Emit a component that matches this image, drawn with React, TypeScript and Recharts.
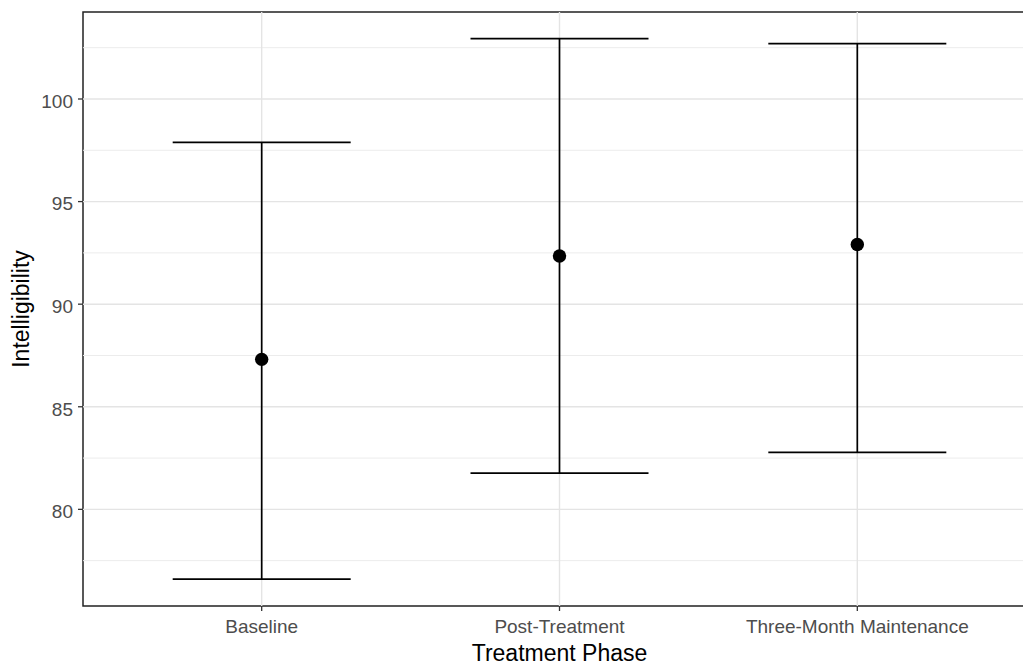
import { ComposedChart, Scatter, ErrorBar, XAxis, YAxis, ReferenceLine, ReferenceArea } from 'recharts';

const phases = ['Baseline', 'Post-Treatment', 'Three-Month Maintenance'];
const means = [87.31, 92.35, 92.91];
const lowers = [76.6, 81.77, 82.78];
const uppers = [97.89, 102.94, 102.7];

const yTicks = [80, 85, 90, 95, 100];
const yMinor = [77.5, 82.5, 87.5, 92.5, 97.5, 102.5];
const xTicks = [1, 2, 3];

const data = phases.map((name, i) => ({
    x: i + 1,
    name,
    mean: means[i],
    err: [means[i] - lowers[i], uppers[i] - means[i]],
}));

const FONT = '"Liberation Sans", Arial, sans-serif';
const Y_DOMAIN: [number, number] = [75.29, 104.24];

export default function App() {
    return (
        <div style={{ position: 'absolute', left: 0, top: 0, width: 1023, height: 666, overflow: 'hidden', background: '#fff', fontFamily: FONT }}>
            <ComposedChart width={1040} height={666} data={data} margin={{ top: 12, right: 4, left: 0, bottom: 0 }}>
                {/* panel grid */}
                {yMinor.map((v) => (
                    <ReferenceLine key={`mn-${v}`} y={v} stroke="#ececec" strokeWidth={1} />
                ))}
                {yTicks.map((v) => (
                    <ReferenceLine key={`mj-${v}`} y={v} stroke="#e4e4e4" strokeWidth={1.4} />
                ))}
                {xTicks.map((v) => (
                    <ReferenceLine key={`vx-${v}`} x={v} stroke="#e4e4e4" strokeWidth={1.4} />
                ))}
                <XAxis
                    type="number"
                    dataKey="x"
                    domain={[0.4, 3.6]}
                    ticks={xTicks}
                    allowDataOverflow
                    tickFormatter={(v: number) => phases[v - 1] ?? ''}
                    axisLine={false}
                    tickLine={{ stroke: '#333', strokeWidth: 1.3 }}
                    tickSize={5}
                    tickMargin={9}
                    height={60}
                    tick={{ fill: '#4d4d4d', fontSize: 19, fontFamily: FONT }}
                    label={{
                        content: ({ viewBox }: any) => (
                            <text
                                x={viewBox.x + viewBox.width / 2}
                                y={viewBox.y + viewBox.height - 5}
                                textAnchor="middle"
                                fill="#000"
                                fontSize={23}
                                fontFamily={FONT}
                            >
                                Treatment Phase
                            </text>
                        ),
                    }}
                />
                <YAxis
                    type="number"
                    domain={Y_DOMAIN}
                    ticks={yTicks}
                    allowDataOverflow
                    axisLine={false}
                    tickLine={{ stroke: '#333', strokeWidth: 1.3 }}
                    tickSize={5}
                    tickMargin={5}
                    width={83}
                    tick={{ fill: '#4d4d4d', fontSize: 19, fontFamily: FONT, dy: 2 }}
                    label={{
                        content: ({ viewBox }: any) => {
                            const cx = viewBox.x + 29;
                            const cy = viewBox.y + viewBox.height / 2;
                            return (
                                <text
                                    x={cx}
                                    y={cy}
                                    transform={`rotate(-90, ${cx}, ${cy})`}
                                    textAnchor="middle"
                                    fill="#000"
                                    fontSize={23}
                                    fontFamily={FONT}
                                >
                                    Intelligibility
                                </text>
                            );
                        },
                    }}
                />
                <Scatter
                    dataKey="mean"
                    isAnimationActive={false}
                    shape={(p: any) => <circle cx={p.cx} cy={p.cy} r={6.7} fill="#000" />}
                >
                    <ErrorBar dataKey="err" direction="y" width={89} stroke="#000" strokeWidth={1.7} isAnimationActive={false} />
                </Scatter>
                <ReferenceArea
                    x1={0.4}
                    x2={3.6}
                    y1={Y_DOMAIN[0]}
                    y2={Y_DOMAIN[1]}
                    fill="none"
                    stroke="#222"
                    strokeWidth={1.5}
                    ifOverflow="visible"
                />
            </ComposedChart>
        </div>
    );
}
